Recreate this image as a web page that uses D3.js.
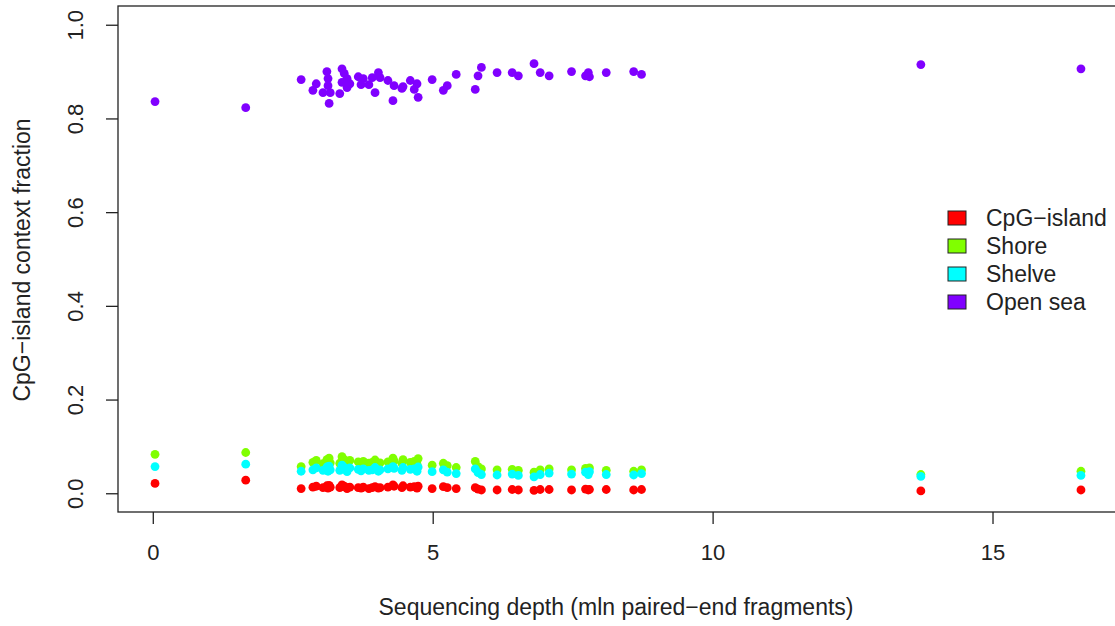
<!DOCTYPE html>
<html>
<head>
<meta charset="utf-8">
<script src="https://cdn.jsdelivr.net/npm/d3@7"></script>
<style>
  body { margin: 0; background: #fff; }
  text { font-family: "Liberation Sans", Arial, sans-serif; fill: #222; }
</style>
</head>
<body>
<div id="chart"></div>
<script>
// sequencing depth per sample (mln paired-end fragments)
var depth = [0.04, 1.66, 2.65, 2.86, 2.92, 3.04, 3.11, 3.13, 3.13, 3.15, 3.17, 3.34, 3.38, 3.38, 3.42, 3.47, 3.47, 3.52, 3.67, 3.72,
  3.76, 3.86, 3.92, 3.97, 4.03, 4.06, 4.20, 4.29, 4.31, 4.45, 4.47, 4.60, 4.67, 4.72, 4.74, 4.99, 5.19, 5.26, 5.42, 5.76,
  5.81, 5.87, 6.15, 6.42, 6.53, 6.81, 6.92, 7.08, 7.48, 7.73, 7.78, 7.80, 8.10, 8.59, 8.73, 13.72, 16.58];

var cpgIsland = [0.021, 0.028, 0.010, 0.013, 0.015, 0.012, 0.016, 0.014, 0.011, 0.017, 0.013, 0.012, 0.018, 0.014, 0.015, 0.012, 0.010, 0.013, 0.012, 0.011,
  0.013, 0.010, 0.012, 0.014, 0.011, 0.012, 0.013, 0.018, 0.015, 0.012, 0.016, 0.013, 0.014, 0.011, 0.015, 0.010, 0.014, 0.012, 0.010, 0.012,
  0.009, 0.007, 0.007, 0.008, 0.007, 0.006, 0.008, 0.008, 0.007, 0.009, 0.007, 0.008, 0.008, 0.007, 0.008, 0.005, 0.007];

var shore = [0.083, 0.087, 0.057, 0.066, 0.070, 0.063, 0.072, 0.068, 0.060, 0.075, 0.065, 0.064, 0.078, 0.069, 0.072, 0.066, 0.061, 0.070, 0.067, 0.063,
  0.068, 0.064, 0.066, 0.071, 0.062, 0.065, 0.067, 0.075, 0.069, 0.064, 0.072, 0.066, 0.068, 0.062, 0.074, 0.060, 0.064, 0.059, 0.055, 0.068,
  0.057, 0.052, 0.050, 0.051, 0.049, 0.045, 0.050, 0.052, 0.050, 0.053, 0.050, 0.054, 0.049, 0.047, 0.050, 0.040, 0.047];

var shelve = [0.057, 0.062, 0.047, 0.050, 0.054, 0.049, 0.056, 0.052, 0.047, 0.058, 0.050, 0.049, 0.060, 0.053, 0.055, 0.050, 0.046, 0.054, 0.051, 0.048,
  0.052, 0.049, 0.050, 0.055, 0.047, 0.050, 0.052, 0.057, 0.053, 0.049, 0.055, 0.051, 0.052, 0.047, 0.056, 0.046, 0.050, 0.045, 0.042, 0.052,
  0.044, 0.040, 0.039, 0.041, 0.038, 0.035, 0.040, 0.043, 0.041, 0.045, 0.040, 0.046, 0.040, 0.039, 0.042, 0.036, 0.038];

var openSea = [0.836, 0.823, 0.883, 0.860, 0.874, 0.855, 0.900, 0.885, 0.870, 0.832, 0.855, 0.853, 0.906, 0.877, 0.896, 0.885, 0.866, 0.874, 0.889, 0.872,
  0.885, 0.872, 0.887, 0.855, 0.898, 0.887, 0.881, 0.838, 0.870, 0.864, 0.868, 0.881, 0.862, 0.874, 0.845, 0.883, 0.860, 0.870, 0.894, 0.862,
  0.891, 0.909, 0.898, 0.898, 0.891, 0.917, 0.898, 0.891, 0.900, 0.891, 0.898, 0.889, 0.898, 0.900, 0.894, 0.915, 0.906];

var seriesNames = ["CpG\u2212island", "Shore", "Shelve", "Open sea"];
var seriesColors = ["#FF0000", "#80FF00", "#00FFFF", "#8000FF"];
var xTicks = [0, 5, 10, 15];
var yTicks = [0.0, 0.2, 0.4, 0.6, 0.8, 1.0];

var W = 1115, H = 626;
var svg = d3.select("#chart").append("svg")
  .attr("width", W)
  .attr("height", H);

// R style: axis range padded 4% beyond the data
var xMin = d3.min(depth), xMax = d3.max(depth);
var xPad = (xMax - xMin) * 0.04;
var x = d3.scaleLinear().domain([xMin - xPad, xMax + xPad]).range([118, 1118]);
var y = d3.scaleLinear().domain([-0.04, 1.04]).range([512, 6]);

// box
svg.append("rect")
  .attr("x", 118).attr("y", 6)
  .attr("width", 1000).attr("height", 506)
  .attr("fill", "none").attr("stroke", "#222").attr("stroke-width", 1.3);

var xAxis = d3.axisBottom(x).tickValues(xTicks).tickSize(12).tickPadding(20).tickFormat(d3.format("d"));
var gx = svg.append("g").attr("transform", "translate(0,512)").call(xAxis);
gx.select(".domain").remove();
gx.selectAll("line").attr("stroke", "#222").attr("stroke-width", 1.3);
gx.selectAll("text").style("font-size", "22px").attr("fill", "#222");

var yAxis = d3.axisLeft(y).tickValues(yTicks).tickSize(12).tickFormat(d3.format(".1f"));
var gy = svg.append("g").attr("transform", "translate(118,0)").call(yAxis);
gy.select(".domain").remove();
gy.selectAll("line").attr("stroke", "#222").attr("stroke-width", 1.3);
gy.selectAll("text")
  .style("font-size", "22px")
  .attr("fill", "#222")
  .attr("x", 0).attr("dy", null)
  .attr("text-anchor", "middle")
  .attr("transform", "translate(-43,0) rotate(-90)")
  .attr("dominant-baseline", "central");

// axis titles
svg.append("text")
  .attr("x", 616).attr("y", 615)
  .attr("text-anchor", "middle")
  .style("font-size", "23px")
  .text("Sequencing depth (mln paired\u2212end fragments)");

svg.append("text")
  .attr("transform", "translate(30,260) rotate(-90)")
  .attr("text-anchor", "middle")
  .style("font-size", "23px")
  .text("CpG\u2212island context fraction");

// points
var allSeries = [cpgIsland, shore, shelve, openSea];
for (var s = 0; s < allSeries.length; s++) {
  svg.append("g").selectAll("circle")
    .data(allSeries[s])
    .enter()
    .append("circle")
    .attr("cx", function(d, i) { return x(depth[i]); })
    .attr("cy", function(d) { return y(d); })
    .attr("r", 4.4)
    .attr("fill", seriesColors[s]);
}

// legend
var legend = svg.append("g").attr("transform", "translate(948,218)");
for (var k = 0; k < seriesNames.length; k++) {
  legend.append("rect")
    .attr("x", 0).attr("y", k * 28 - 7)
    .attr("width", 18).attr("height", 14)
    .attr("fill", seriesColors[k])
    .attr("stroke", "#222").attr("stroke-width", 1);
  legend.append("text")
    .attr("x", 38).attr("y", k * 28)
    .attr("dominant-baseline", "central")
    .style("font-size", "23px")
    .text(seriesNames[k]);
}
</script>
</body>
</html>
